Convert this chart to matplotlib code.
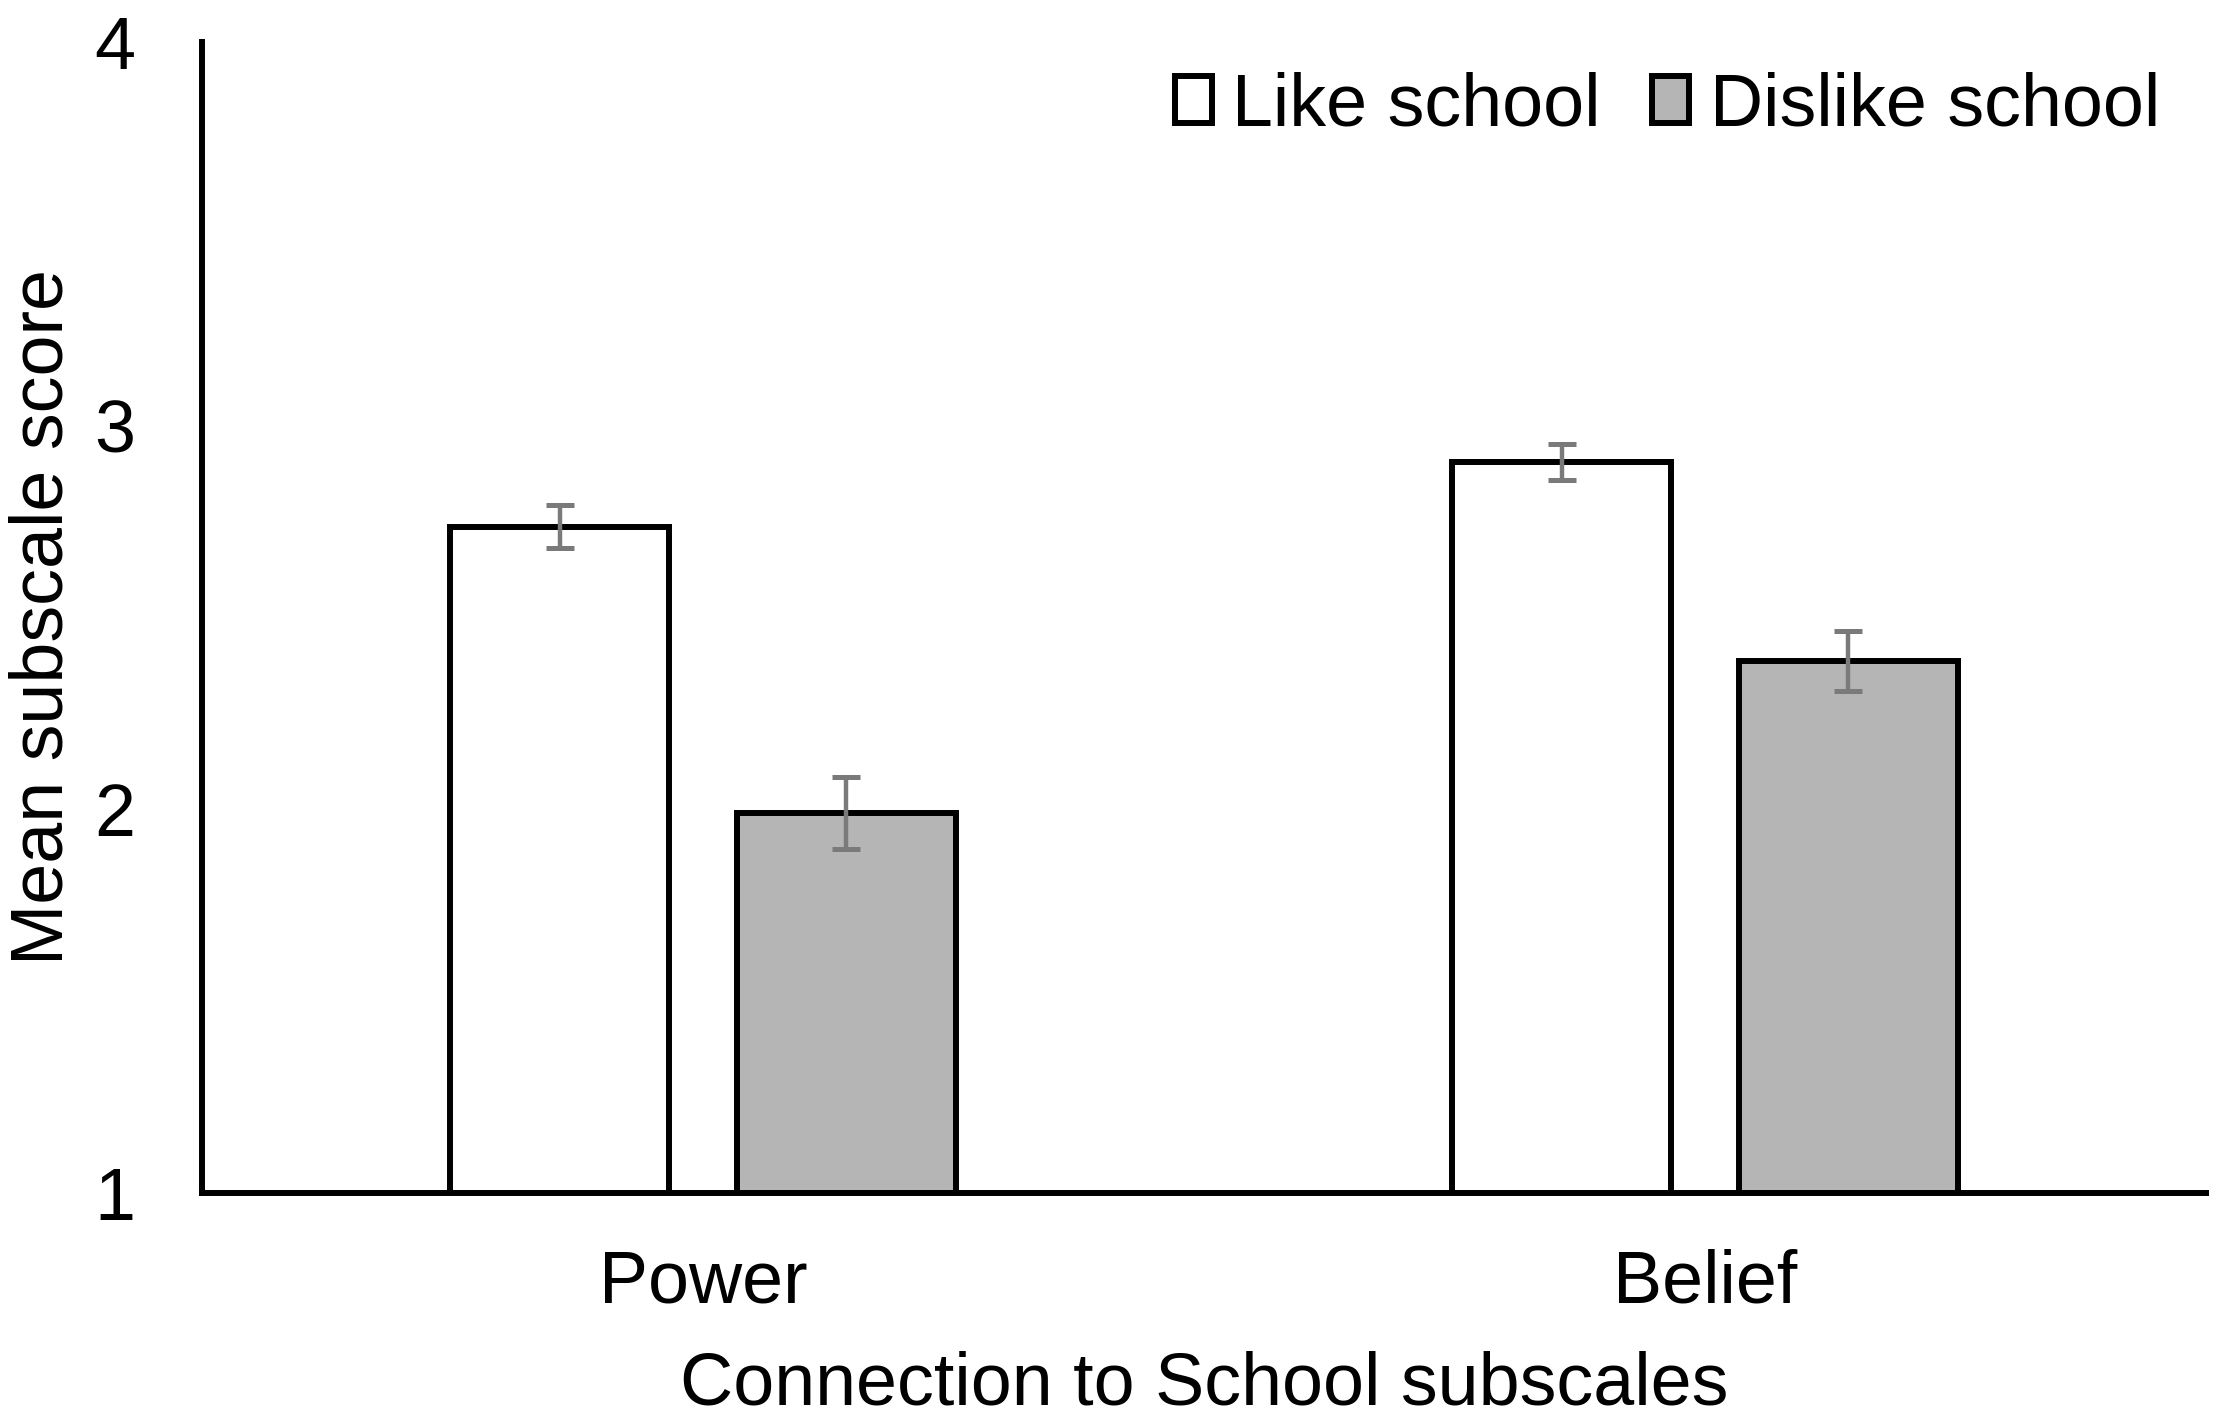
import numpy as np
import matplotlib
matplotlib.use("Agg")
import matplotlib.pyplot as plt

# chart values
subscales = ["Power", "Belief"]
like_means = [2.736, 2.905]
like_errors = [0.056, 0.047]
dislike_means = [1.990, 2.387]
dislike_errors = [0.093, 0.079]
series_labels = ["Like school", "Dislike school"]
y_ticks = [1, 2, 3, 4]

plt.rcParams["font.family"] = ["Liberation Sans", "DejaVu Sans"]
FONT_SIZE = 53

fig = plt.figure(figsize=(22.27, 14.19), dpi=100)
ax = fig.add_axes([0.0907, 0.1593, 0.8999, 0.8111])

x = np.arange(len(subscales))
offset = 0.143
width = 0.219
err_style = dict(ecolor="#7a7a7a", elinewidth=3.2, capsize=10, capthick=3.6)

ax.bar(x - offset, like_means, width, yerr=like_errors, color="white",
       edgecolor="black", linewidth=4.3, label=series_labels[0], error_kw=err_style)
ax.bar(x + offset, dislike_means, width, yerr=dislike_errors, color="#b5b5b5",
       edgecolor="black", linewidth=4.3, label=series_labels[1], error_kw=err_style)

ax.set_xlim(-0.5, 1.5)
ax.set_ylim(1, 4)
ax.set_yticks(y_ticks)
ax.set_xticks(x)
ax.set_xticklabels(subscales)
ax.tick_params(axis="both", length=0, labelsize=FONT_SIZE)
ax.tick_params(axis="y", pad=48)
ax.tick_params(axis="x", pad=40)

for side in ["top", "right"]:
    ax.spines[side].set_visible(False)
for side in ["left", "bottom"]:
    ax.spines[side].set_linewidth(4.3)
    ax.spines[side].set_zorder(3)

ax.set_xlabel("Connection to School subscales", fontsize=FONT_SIZE)
ax.set_ylabel("Mean subscale score", fontsize=FONT_SIZE)
ax.xaxis.set_label_coords(0.5, -0.137)
ax.yaxis.set_label_coords(-0.062, 0.5)

fig.legend(loc="center right", bbox_to_anchor=(2160 / 2227, 1 - 106 / 1419),
           ncol=2, frameon=False, fontsize=FONT_SIZE, handlelength=0.5,
           handleheight=0.6, handletextpad=0.28, columnspacing=0.7,
           borderpad=0, borderaxespad=0)

fig.savefig("out.png", dpi=100)
